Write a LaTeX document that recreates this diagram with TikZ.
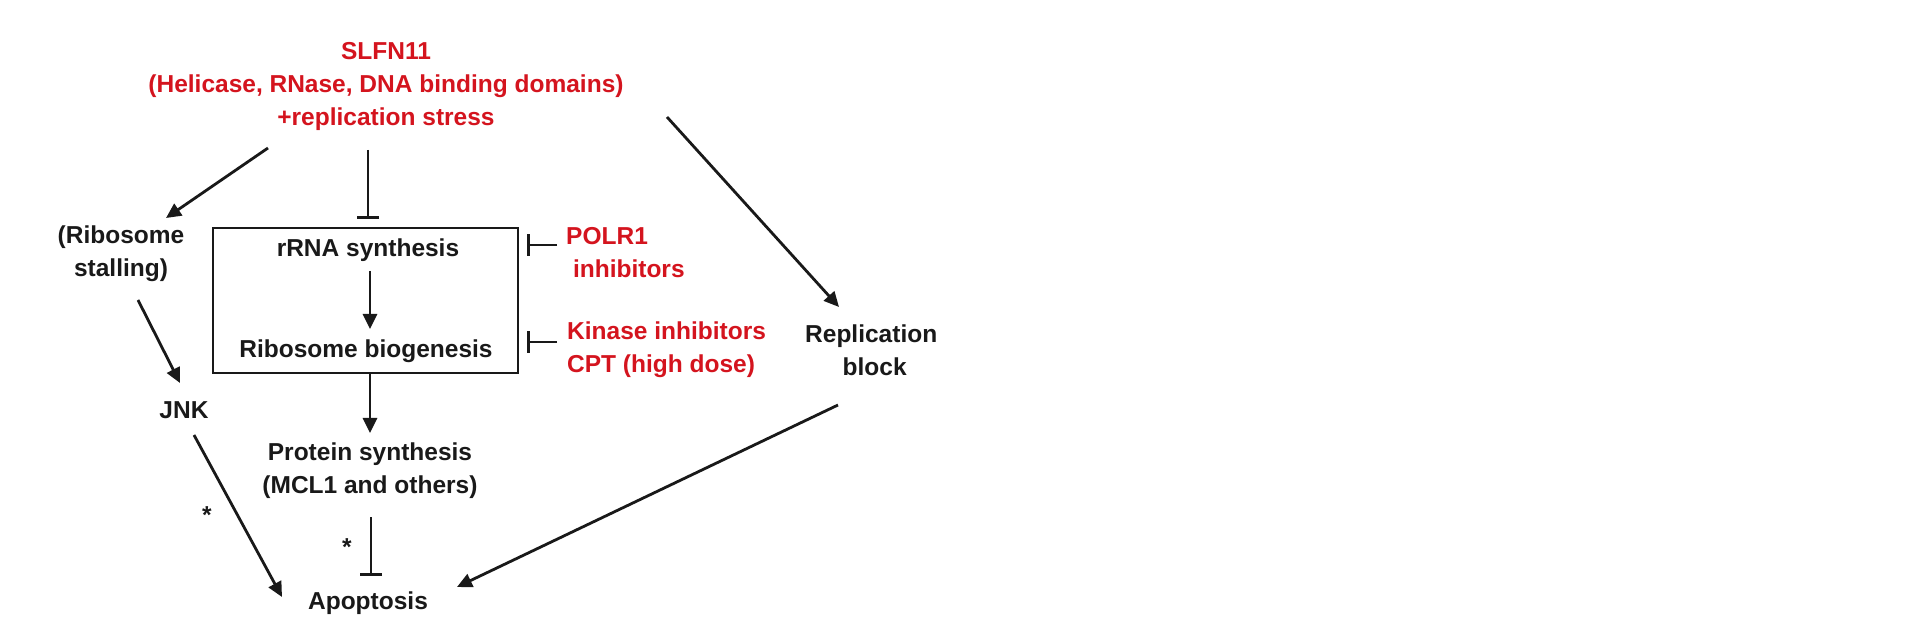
\documentclass[tikz,border=0pt]{standalone}
\usepackage{fontspec}
\setmainfont{Liberation Sans}
\usetikzlibrary{arrows.meta}
\definecolor{myred}{RGB}{212,20,30}
\definecolor{myblk}{RGB}{25,25,25}
\begin{document}
\begin{tikzpicture}[x=1pt,y=-1pt,
  lbl/.style={font=\fontsize{24.5}{33}\selectfont\bfseries, align=center, inner sep=0pt, text=myblk},
  rlbl/.style={lbl, text=myred},
  arr/.style={draw=myblk, line width=2.8pt, -{Triangle[length=15pt,width=14pt]}},
  inh/.style={draw=myblk, line width=2.8pt, -{Bar[width=22pt]}}]
\useasboundingbox (0,0) rectangle (1920,617);
\node[rlbl] (slfn) at (386,86) {SLFN11\\(Helicase, RNase, DNA binding domains)\\+replication stress};
\coordinate (s1) at (268,148); \coordinate (s2) at (368,150); \coordinate (s3) at (667,117);
\node[lbl] (stall) at (121,254) {(Ribosome\\stalling)};
\node[draw=myblk, line width=2.6pt, minimum width=305pt, minimum height=145pt, inner sep=0pt] (box) at (365.5,300.5) {};
\node[lbl] (rrna) at (368,250) {rRNA synthesis};
\node[lbl] (ribo) at (366,351) {Ribosome biogenesis};
\node[rlbl, align=left, anchor=west] (polr) at (566,253) {POLR1\\\ inhibitors};
\node[rlbl, align=left, anchor=west] (kin) at (567,350) {Kinase inhibitors\\CPT (high dose)};
\node[lbl, anchor=west] (rep) at (805,350) {Replication\\\ block};
\node[lbl] (jnk) at (184,410) {JNK};
\node[lbl] (prot) at (370,471) {Protein synthesis\\(MCL1 and others)};
\node[lbl] (ast1) at (347,547) {*};
\node[lbl] (ast2) at (207,515) {*};
\node[lbl] (apo) at (368,603) {Apoptosis};
\coordinate (p1) at (557,245); \coordinate (p2) at (557,342);
\draw[arr] (s1) -- (166,218);
\draw[inh] (s2) -- (368,219);
\draw[arr] (s3) -- (839,307);
\draw[arr] (370,271) -- (370,329);
\draw[inh] (p1) -- (527,245);
\draw[inh] (p2) -- (527,342);
\draw[arr] (138,300) -- (180,383);
\draw[arr] (370,373) -- (370,433);
\draw[inh] (371,517) -- (371,576);
\draw[arr] (194,435) -- (282,597);
\draw[arr] (838,405) -- (457,587);
\end{tikzpicture}
\end{document}
